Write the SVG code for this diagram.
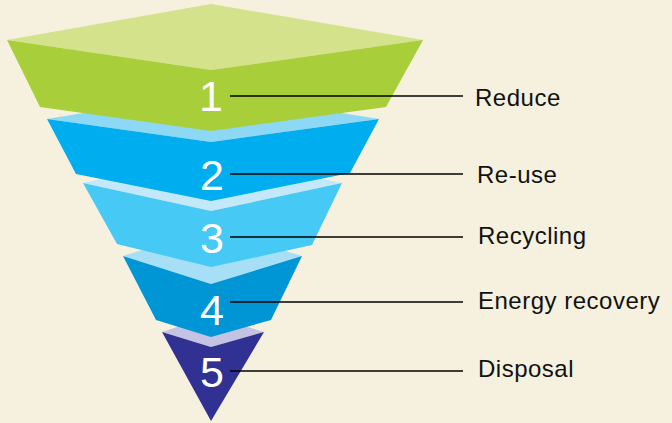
<svg xmlns="http://www.w3.org/2000/svg" width="672" height="423" viewBox="0 0 672 423">
<style>
.num{font-family:"Liberation Sans",Arial,sans-serif;font-size:43px;fill:#ffffff;text-anchor:middle}
.lbl{font-family:"Liberation Sans",Arial,sans-serif;font-size:24px;fill:#111111;letter-spacing:0.5px}
.conn line{stroke:#000000;stroke-width:1.3}
</style>
<rect width="672" height="423" fill="#f5f1de"/>
<g id="layer5">
<polygon points="162,332 211,316 264,332 211,347" fill="#c5c3e3"/>
<polygon points="162,332 211,421 264,332 211,347" fill="#303192"/>
<text class="num" x="212" y="387">5</text>
<text class="lbl" x="478" y="377">Disposal</text>
</g>
<g id="layer4">
<polygon points="123,256 211,228 302,256 211,284" fill="#a7dff7"/>
<polygon points="123,256 156,320 211,337 271,320 302,256 211,284" fill="#0096d6"/>
<text class="num" x="212" y="325">4</text>
<text class="lbl" x="478" y="309">Energy recovery</text>
</g>
<g id="layer3">
<polygon points="83,183 211,155 342,183 211,211" fill="#c3e8f9"/>
<polygon points="83,183 117,244 211,267 312,245 342,183 211,211" fill="#47c9f5"/>
<text class="num" x="212" y="253">3</text>
<text class="lbl" x="478" y="244">Recycling</text>
</g>
<g id="layer2">
<polygon points="47,119 211,92 379,119 211,142" fill="#8dd8f5"/>
<polygon points="47,119 76,174 211,201 350,173 379,119 211,142" fill="#00aeef"/>
<text class="num" x="212" y="190">2</text>
<text class="lbl" x="477" y="183">Re-use</text>
</g>
<g id="layer1">
<polygon points="7,40 211,4 423,40 211,70" fill="#d3e28b"/>
<polygon points="7,40 40,107 211,131 386,107 423,40 211,70" fill="#a8cf3a"/>
<text class="num" x="211" y="111">1</text>
<text class="lbl" x="475" y="106">Reduce</text>
</g>
<g id="connectors" class="conn">
<line x1="230" y1="96" x2="463" y2="96"/>
<line x1="230" y1="174" x2="463" y2="174"/>
<line x1="230" y1="237" x2="463" y2="237"/>
<line x1="230" y1="302" x2="463" y2="302"/>
<line x1="230" y1="371" x2="463" y2="371"/>
</g>
</svg>
